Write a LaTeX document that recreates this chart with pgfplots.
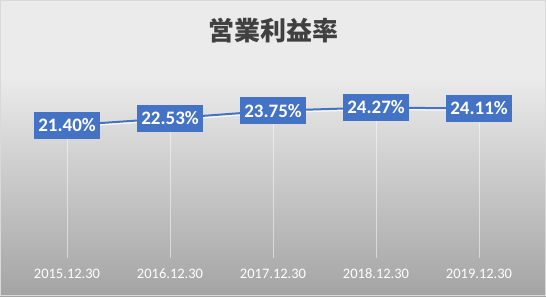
\documentclass[border=0pt]{standalone}
\usepackage{fontspec}
\setmainfont{Carlito}
\newfontfamily\cjk{Noto Sans CJK JP}
\usepackage{pgfplots}
\pgfplotsset{compat=1.18}
\definecolor{bgtop}{HTML}{EBEBEB}
\definecolor{bgbot}{HTML}{8C8C8C}
\definecolor{lblue}{HTML}{4472C4}
\definecolor{ttl}{HTML}{404040}
\begin{document}
\begin{tikzpicture}[x=1bp,y=1bp]
\useasboundingbox (0,0) rectangle (546,296);
\fill[bgtop] (0,0) rectangle (546,296);
\begin{scope}
\clip (0,0) rectangle (546,296);
\shade[top color=bgtop, bottom color=bgbot] (0,-73) rectangle (546,219);
\end{scope}
\draw[color=black!15, line width=1bp] (0.5,0.5) rectangle (545.5,295.5);
\node[font=\cjk\bfseries\fontsize{26bp}{30bp}\selectfont, text=ttl, anchor=center] at (273.5,265) {営業利益率};
\begin{axis}[
  at={(15.5bp,38bp)}, anchor=south west,
  scale only axis, width=515bp, height=186bp,
  xmin=-0.5, xmax=4.5, ymin=0, ymax=30,
  clip=false,
  axis line style={draw=none}, tick style={draw=none},
  ytick=\empty,
  xtick={0,1,2,3,4},
  xticklabels={2015.12.30,2016.12.30,2017.12.30,2018.12.30,2019.12.30},
  xticklabel style={anchor=center, yshift=-16bp, text=white, font=\fontsize{14.5bp}{16bp}\selectfont},
]
\addplot[ycomb, draw=white, opacity=0.5, line width=1bp, mark=none] coordinates {(0,21.40) (1,22.53) (2,23.75) (3,24.27) (4,24.11)};
\addplot[draw=white, opacity=0.8, line width=2bp, mark=none, yshift=-1.5bp] coordinates {(0,21.40) (1,22.53) (2,23.75) (3,24.27) (4,24.11)};
\addplot[draw=lblue, line width=2bp, mark=none,
  point meta=explicit symbolic, nodes near coords,
  every node near coord/.append style={anchor=center, fill=lblue, text=white,
    font=\bfseries\fontsize{19bp}{22bp}\selectfont, inner xsep=4bp, inner ysep=0pt,
    text height=12.5bp, text depth=0pt, minimum height=27bp}]
  coordinates {(0,21.40) [21.40\%] (1,22.53) [22.53\%] (2,23.75) [23.75\%] (3,24.27) [24.27\%] (4,24.11) [24.11\%]};
\end{axis}
\end{tikzpicture}
\end{document}
